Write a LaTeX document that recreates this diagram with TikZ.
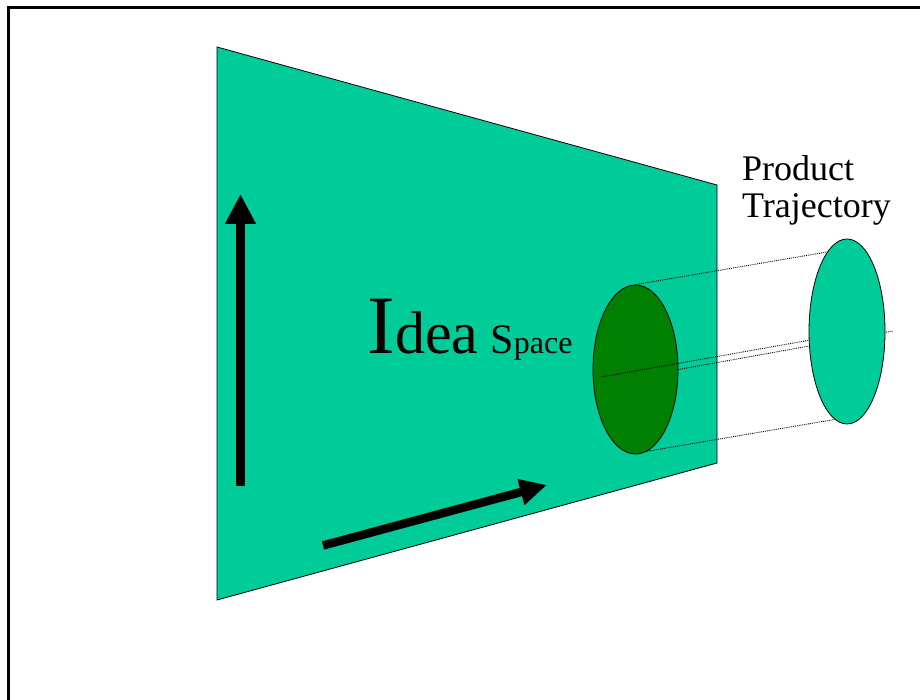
\documentclass[tikz,border=0pt]{standalone}
\usepackage{fontspec}
\setmainfont{Liberation Serif}
\usetikzlibrary{shapes.geometric,arrows.meta}
\definecolor{sea}{RGB}{0,204,153}
\definecolor{deep}{RGB}{0,128,0}
\pgfdeclarelayer{front}
\pgfsetlayers{main,front}
\tikzset{
  px/.style={x=1pt,y=-1pt},
  plane/.style={draw=black,line width=0.8pt,fill=sea},
  bigarrow/.style={line width=9pt,-{Triangle[length=30pt,width=29pt]}},
  bigarrowb/.style={line width=8.5pt,-{Triangle[length=27pt,width=25pt]}},
  oval/.style={ellipse,draw=black,line width=0.8pt,inner sep=0pt},
  proj/.style={line width=0.9pt,densely dotted,black},
  frameline/.style={line width=3pt}
}
\begin{document}
\begin{tikzpicture}[px]
\useasboundingbox (0,0) rectangle (920,700);
% frame
\draw[frameline] (8.5,720) -- (8.5,7.5) -- (940,7.5);
% idea plane
\draw[plane] (217,47) -- (717,185) -- (717,463) -- (217,600) -- cycle;
% arrows
\coordinate (va) at (240.5,486);
\coordinate (vb) at (240.5,194);
\draw[bigarrow] (va) -- (vb);
\coordinate (ha) at (323,545.5);
\coordinate (hb) at (547,485);
\draw[bigarrowb] (ha) -- (hb);
% label
\node[anchor=base west,inner sep=0pt] (idea) at (367.5,353)
  {{\fontsize{83}{83}\selectfont I}{\fontsize{60}{60}\selectfont dea}\hspace{12pt}{\fontsize{42}{42}\selectfont S}{\fontsize{32}{32}\selectfont pace}};
% dark ellipse
\node[oval,fill=deep,minimum width=85pt,minimum height=169pt] (dark) at (635.5,369.5) {};
% product ellipse (drawn on top)
\begin{pgfonlayer}{front}
\node[oval,fill=sea,minimum width=76pt,minimum height=185pt] (prod) at (847,331.5) {};
\end{pgfonlayer}
% projection lines
\coordinate (m1) at (601,377);
\coordinate (m2) at (893,331);
\draw[proj] (dark.north) -- (prod.104);
\draw[proj] (dark.-82) -- (prod.-98);
\draw[proj] (m1) -- (prod.193);
\draw[proj] (dark.east) -- (m2);
% title
\node[anchor=base west,inner sep=0pt,align=left,font=\fontsize{36}{37}\selectfont] (title) at (742,218) {Product\\Trajectory};
\end{tikzpicture}
\end{document}
